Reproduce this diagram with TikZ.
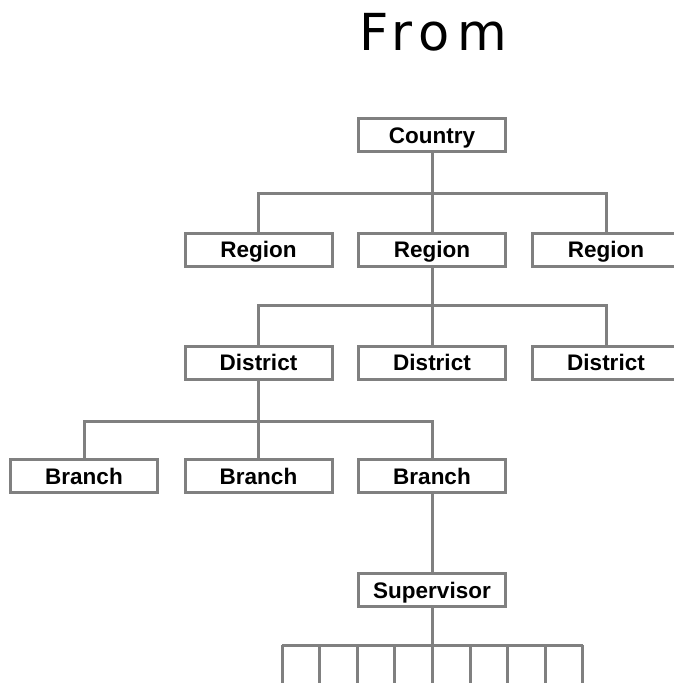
\documentclass[tikz,border=0pt]{standalone}
\usepackage{fontspec}
\setmainfont{Liberation Sans}
\newfontfamily\titlefont[LetterSpace=14]{DejaVu Sans}
\definecolor{linegray}{gray}{0.5}
\tikzset{
  orgbox/.style={draw=linegray, line width=3pt, fill=white, minimum width=147pt, minimum height=33pt, inner sep=0pt, text height=16pt, text depth=0pt, font=\bfseries\fontsize{22.5}{22.5}\selectfont, text=black},
  link/.style={draw=linegray, line width=3pt},
}
\begin{document}
\begin{tikzpicture}[x=1pt,y=-1pt]
\useasboundingbox (0,0) rectangle (674,683);
\node[font=\titlefont\fontsize{51}{51}\selectfont, anchor=base] (title) at (433,50) {From};
% boxes
\node[orgbox] (country) at (432,135) {Country};
\node[orgbox] (r1) at (258.5,249.5) {Region};
\node[orgbox] (r2) at (432,249.5) {Region};
\node[orgbox] (r3) at (606,249.5) {Region};
\node[orgbox] (d1) at (258.5,362.5) {District};
\node[orgbox] (d2) at (432,362.5) {District};
\node[orgbox] (d3) at (606,362.5) {District};
\node[orgbox] (b1) at (84,476) {Branch};
\node[orgbox] (b2) at (258.5,476) {Branch};
\node[orgbox] (b3) at (432,476) {Branch};
\node[orgbox] (sup) at (432,590) {Supervisor};
% country -> regions
\coordinate (cbus) at (432,193);
\draw[link] (country.south) -- (r2.north);
\draw[link] (r1.north) |- (cbus) -| (r3.north);
% region -> districts
\coordinate (rbus) at (432,305);
\draw[link] (r2.south) -- (d2.north);
\draw[link] (d1.north) |- (rbus) -| (d3.north);
% district -> branches
\coordinate (dbus) at (258.5,421);
\draw[link] (d1.south) -- (b2.north);
\draw[link] (b1.north) |- (dbus) -| (b3.north);
% branch -> supervisor
\draw[link] (b3.south) -- (sup.north);
% supervisor -> leaves
\coordinate (lbus) at (432,645);
\draw[link] (sup.south) -- (lbus);
\foreach \i in {0,...,8} {
  \coordinate (top\i) at ({282+\i*37.6},645);
  \coordinate (bot\i) at ({282+\i*37.6},690);
  \draw[link] (top\i) -- (bot\i);
}
\draw[link] (top0) -- (top8);
\end{tikzpicture}
\end{document}
